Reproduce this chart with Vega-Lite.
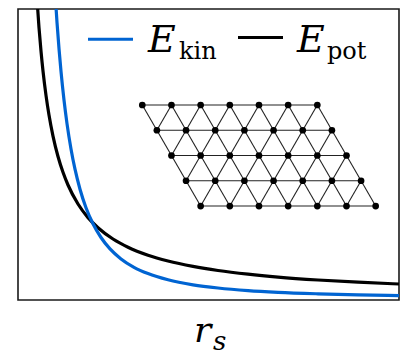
{
  "$schema": "https://vega.github.io/schema/vega-lite/v6.json",
  "width": 381,
  "height": 291,
  "autosize": {"type": "none"},
  "padding": {"left": 18, "top": 9, "right": 5, "bottom": 56},
  "config": {
    "view": {"stroke": "#1a1a1a", "strokeWidth": 1.6},
    "axis": {"disable": true}
  },
  "datasets": {
    "curves": [
      {"series": "E_pot", "r": 17, "E": 336.3},
      {"series": "E_pot", "r": 19, "E": 301.0},
      {"series": "E_pot", "r": 21, "E": 272.4},
      {"series": "E_pot", "r": 23, "E": 248.8},
      {"series": "E_pot", "r": 25, "E": 229.0},
      {"series": "E_pot", "r": 28, "E": 204.6},
      {"series": "E_pot", "r": 31, "E": 184.9},
      {"series": "E_pot", "r": 35, "E": 163.9},
      {"series": "E_pot", "r": 40, "E": 143.5},
      {"series": "E_pot", "r": 45, "E": 127.7},
      {"series": "E_pot", "r": 50, "E": 115.0},
      {"series": "E_pot", "r": 60, "E": 96.0},
      {"series": "E_pot", "r": 70, "E": 82.4},
      {"series": "E_pot", "r": 80, "E": 72.3},
      {"series": "E_pot", "r": 95, "E": 61.0},
      {"series": "E_pot", "r": 110, "E": 52.8},
      {"series": "E_pot", "r": 130, "E": 44.8},
      {"series": "E_pot", "r": 150, "E": 39.0},
      {"series": "E_pot", "r": 175, "E": 33.6},
      {"series": "E_pot", "r": 200, "E": 29.5},
      {"series": "E_pot", "r": 230, "E": 25.8},
      {"series": "E_pot", "r": 260, "E": 22.9},
      {"series": "E_pot", "r": 300, "E": 20.0},
      {"series": "E_pot", "r": 340, "E": 17.8},
      {"series": "E_pot", "r": 381, "E": 16.0},
      {"series": "E_kin", "r": 35, "E": 344.4},
      {"series": "E_kin", "r": 37, "E": 308.3},
      {"series": "E_kin", "r": 39, "E": 277.6},
      {"series": "E_kin", "r": 41, "E": 251.4},
      {"series": "E_kin", "r": 43, "E": 228.6},
      {"series": "E_kin", "r": 46, "E": 200.0},
      {"series": "E_kin", "r": 49, "E": 176.4},
      {"series": "E_kin", "r": 53, "E": 151.0},
      {"series": "E_kin", "r": 57, "E": 130.8},
      {"series": "E_kin", "r": 62, "E": 110.8},
      {"series": "E_kin", "r": 68, "E": 92.3},
      {"series": "E_kin", "r": 75, "E": 76.2},
      {"series": "E_kin", "r": 83, "E": 62.5},
      {"series": "E_kin", "r": 92, "E": 51.1},
      {"series": "E_kin", "r": 103, "E": 41.1},
      {"series": "E_kin", "r": 116, "E": 32.7},
      {"series": "E_kin", "r": 130, "E": 26.4},
      {"series": "E_kin", "r": 150, "E": 20.2},
      {"series": "E_kin", "r": 175, "E": 15.2},
      {"series": "E_kin", "r": 200, "E": 12.0},
      {"series": "E_kin", "r": 230, "E": 9.4},
      {"series": "E_kin", "r": 260, "E": 7.7},
      {"series": "E_kin", "r": 300, "E": 6.2},
      {"series": "E_kin", "r": 340, "E": 5.1},
      {"series": "E_kin", "r": 381, "E": 4.4}
    ],
    "sites": [
      {"x": 0, "y": 0}, {"x": 1, "y": 0}, {"x": 2, "y": 0}, {"x": 3, "y": 0}, {"x": 4, "y": 0}, {"x": 5, "y": 0}, {"x": 6, "y": 0},
      {"x": 0.5, "y": 1}, {"x": 1.5, "y": 1}, {"x": 2.5, "y": 1}, {"x": 3.5, "y": 1}, {"x": 4.5, "y": 1}, {"x": 5.5, "y": 1}, {"x": 6.5, "y": 1},
      {"x": 1, "y": 2}, {"x": 2, "y": 2}, {"x": 3, "y": 2}, {"x": 4, "y": 2}, {"x": 5, "y": 2}, {"x": 6, "y": 2}, {"x": 7, "y": 2},
      {"x": 1.5, "y": 3}, {"x": 2.5, "y": 3}, {"x": 3.5, "y": 3}, {"x": 4.5, "y": 3}, {"x": 5.5, "y": 3}, {"x": 6.5, "y": 3}, {"x": 7.5, "y": 3},
      {"x": 2, "y": 4}, {"x": 3, "y": 4}, {"x": 4, "y": 4}, {"x": 5, "y": 4}, {"x": 6, "y": 4}, {"x": 7, "y": 4}, {"x": 8, "y": 4}
    ],
    "bonds": [
      {"x": 0, "y": 0, "x2": 6, "y2": 0},
      {"x": 0.5, "y": 1, "x2": 6.5, "y2": 1},
      {"x": 1, "y": 2, "x2": 7, "y2": 2},
      {"x": 1.5, "y": 3, "x2": 7.5, "y2": 3},
      {"x": 2, "y": 4, "x2": 8, "y2": 4},
      {"x": 0, "y": 0, "x2": 2, "y2": 4},
      {"x": 1, "y": 0, "x2": 3, "y2": 4},
      {"x": 2, "y": 0, "x2": 4, "y2": 4},
      {"x": 3, "y": 0, "x2": 5, "y2": 4},
      {"x": 4, "y": 0, "x2": 6, "y2": 4},
      {"x": 5, "y": 0, "x2": 7, "y2": 4},
      {"x": 6, "y": 0, "x2": 8, "y2": 4},
      {"x": 1, "y": 0, "x2": 0.5, "y2": 1},
      {"x": 2, "y": 0, "x2": 1, "y2": 2},
      {"x": 3, "y": 0, "x2": 1.5, "y2": 3},
      {"x": 4, "y": 0, "x2": 2, "y2": 4},
      {"x": 5, "y": 0, "x2": 3, "y2": 4},
      {"x": 6, "y": 0, "x2": 4, "y2": 4},
      {"x": 6.5, "y": 1, "x2": 5, "y2": 4},
      {"x": 7, "y": 2, "x2": 6, "y2": 4},
      {"x": 7.5, "y": 3, "x2": 7, "y2": 4}
    ]
  },
  "layer": [
    {
      "layer": [
        {
          "data": {"name": "curves"},
          "mark": {"type": "line", "strokeWidth": 3.2, "clip": true, "interpolate": "monotone"},
          "encoding": {
            "x": {"field": "r", "type": "quantitative", "scale": {"domain": [0, 381], "nice": false, "zero": false}, "axis": null},
            "y": {"field": "E", "type": "quantitative", "scale": {"domain": [0, 291], "nice": false, "zero": false}, "axis": null},
            "color": {"field": "series", "type": "nominal", "scale": {"domain": ["E_kin", "E_pot"], "range": ["#0064d2", "#000000"]}, "legend": null},
            "order": {"field": "r", "type": "quantitative"}
          }
        },
        {
          "data": {"values": [{}]},
          "mark": {"type": "rule", "stroke": "#0064d2", "strokeWidth": 3},
          "encoding": {
            "x": {"datum": 70, "type": "quantitative"},
            "x2": {"datum": 115},
            "y": {"datum": 260.7, "type": "quantitative"}
          }
        },
        {
          "data": {"values": [{}]},
          "mark": {"type": "rule", "stroke": "#000000", "strokeWidth": 3},
          "encoding": {
            "x": {"datum": 220, "type": "quantitative"},
            "x2": {"datum": 265},
            "y": {"datum": 262.5, "type": "quantitative"}
          }
        },
        {
          "data": {"values": [{}]},
          "mark": {"type": "text", "text": "E", "font": "DejaVu Serif", "fontStyle": "italic", "fontSize": 38, "align": "left", "baseline": "alphabetic", "color": "#000"},
          "encoding": {"x": {"datum": 130, "type": "quantitative"}, "y": {"datum": 248.5, "type": "quantitative"}}
        },
        {
          "data": {"values": [{}]},
          "mark": {"type": "text", "text": "kin", "font": "DejaVu Serif", "fontSize": 24, "align": "left", "baseline": "alphabetic", "color": "#000"},
          "encoding": {"x": {"datum": 161, "type": "quantitative"}, "y": {"datum": 241, "type": "quantitative"}}
        },
        {
          "data": {"values": [{}]},
          "mark": {"type": "text", "text": "E", "font": "DejaVu Serif", "fontStyle": "italic", "fontSize": 38, "align": "left", "baseline": "alphabetic", "color": "#000"},
          "encoding": {"x": {"datum": 279, "type": "quantitative"}, "y": {"datum": 248.5, "type": "quantitative"}}
        },
        {
          "data": {"values": [{}]},
          "mark": {"type": "text", "text": "pot", "font": "DejaVu Serif", "fontSize": 24, "align": "left", "baseline": "alphabetic", "color": "#000"},
          "encoding": {"x": {"datum": 309, "type": "quantitative"}, "y": {"datum": 241, "type": "quantitative"}}
        },
        {
          "data": {"values": [{}]},
          "mark": {"type": "text", "text": "r", "font": "DejaVu Serif", "fontStyle": "italic", "fontSize": 36, "align": "left", "baseline": "alphabetic", "color": "#000"},
          "encoding": {"x": {"datum": 176, "type": "quantitative"}, "y": {"datum": -42, "type": "quantitative"}}
        },
        {
          "data": {"values": [{}]},
          "mark": {"type": "text", "text": "s", "font": "DejaVu Serif", "fontStyle": "italic", "fontSize": 26, "align": "left", "baseline": "alphabetic", "color": "#000"},
          "encoding": {"x": {"datum": 195, "type": "quantitative"}, "y": {"datum": -50, "type": "quantitative"}}
        }
      ]
    },
    {
      "layer": [
        {
          "data": {"name": "bonds"},
          "mark": {"type": "rule", "stroke": "#222222", "strokeWidth": 1.1},
          "encoding": {
            "x": {"field": "x", "type": "quantitative", "scale": {"domain": [-4.261, 8.8], "nice": false, "zero": false}, "axis": null},
            "y": {"field": "y", "type": "quantitative", "scale": {"domain": [-3.8, 7.72], "nice": false, "zero": false, "reverse": true}, "axis": null},
            "x2": {"field": "x2"},
            "y2": {"field": "y2"}
          }
        },
        {
          "data": {"name": "sites"},
          "mark": {"type": "point", "filled": true, "shape": "circle", "size": 45, "color": "#000000", "opacity": 1},
          "encoding": {
            "x": {"field": "x", "type": "quantitative"},
            "y": {"field": "y", "type": "quantitative"}
          }
        }
      ]
    }
  ],
  "resolve": {"scale": {"x": "independent", "y": "independent"}}
}
